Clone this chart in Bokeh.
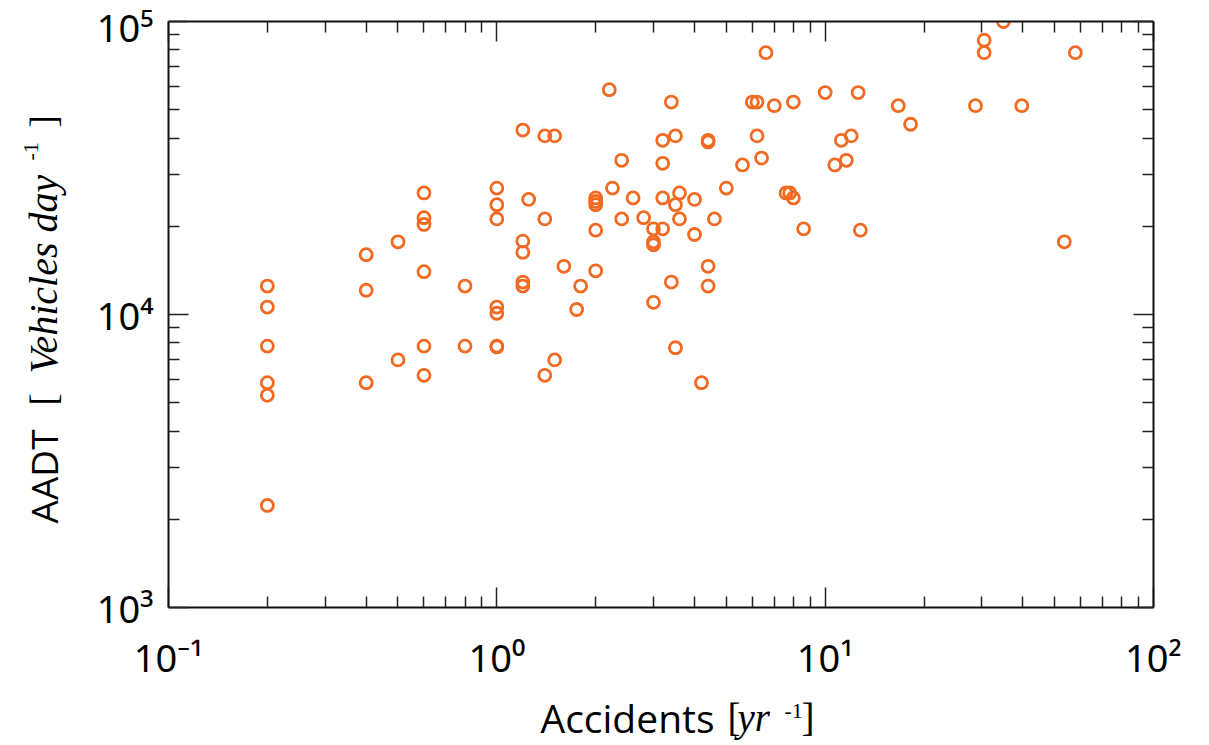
import numpy as np
from bokeh.plotting import figure
from bokeh.models import ColumnDataSource, LogAxis, FixedTicker, Label, Range1d
from bokeh.embed import file_html
from bokeh.resources import INLINE

# ---- data ----
accidents = [
    0.2, 0.2, 0.2, 0.2, 0.2, 0.2,
    0.4, 0.4, 0.4,
    0.5, 0.5,
    0.6, 0.6, 0.6, 0.6, 0.6, 0.6,
    0.8, 0.8,
    1.0, 1.0, 1.0, 1.0, 1.0, 1.0, 1.0,
    1.2, 1.2, 1.2, 1.2, 1.2,
    1.25,
    1.4, 1.4, 1.4,
    1.5, 1.5,
    1.6, 1.75, 1.8,
    2.0, 2.0, 2.0, 2.0, 2.0,
    2.2, 2.25,
    2.4, 2.4,
    2.6, 2.8,
    3.0, 3.0, 3.0, 3.0,
    3.2, 3.2, 3.2, 3.2,
    3.4, 3.4,
    3.5, 3.5, 3.5,
    3.6, 3.6,
    4.0, 4.0,
    4.2,
    4.4, 4.4, 4.4, 4.4,
    4.6, 5.0, 5.6,
    6.0, 6.2, 6.2, 6.4, 6.6,
    7.0, 7.6, 7.8,
    8.0, 8.0, 8.6,
    10.0, 10.7, 11.2, 11.6, 12.0, 12.6, 12.8,
    16.7, 18.2,
    28.7, 30.5, 30.5, 34.9, 39.7,
    53.5, 57.8,
]
aadt = [
    12500, 10600, 7800, 5850, 5300, 2230,
    16000, 12100, 5850,
    17700, 7000,
    26000, 21400, 20300, 14000, 7800, 6200,
    12500, 7800,
    27000, 23700, 21200, 10600, 10100, 7800, 7750,
    42600, 17800, 16300, 12900, 12500,
    24700,
    40700, 21200, 6200,
    40700, 7000,
    14600, 10400, 12500,
    25000, 24300, 23700, 19400, 14100,
    58500, 27000,
    33600, 21200,
    25000, 21400,
    19600, 17700, 17300, 11000,
    39300, 32800, 25000, 19600,
    53100, 12900,
    40700, 23700, 7700,
    26000, 21200,
    24700, 18750,
    5850,
    39300, 38800, 14600, 12500,
    21200, 27000, 32400,
    53100, 53100, 40700, 34200, 78300,
    51600, 26000, 26000,
    53100, 25000, 19600,
    57200, 32400, 39300, 33600, 40700, 57200, 19400,
    51600, 44600,
    51600, 86300, 78300, 100000, 51600,
    17700, 78300,
]

x_major = [0.1, 1, 10, 100]
x_tick_labels = ["10\u207b\u00b9", "10\u2070", "10\u00b9", "10\u00b2"]
y_major = [1000, 10000, 100000]
y_tick_labels = ["10\u00b3", "10\u2074", "10\u2075"]

x_title = "Accidents"
y_title = "AADT"
y_unit = "Vehicles day"
x_unit = "yr"
unit_exp = "-1"

ORANGE = "#F26A21"

def minor_list(majors):
    out = []
    for m in majors[:-1]:
        for k in range(2, 10):
            out.append(m * k)
    return out

x_minor = minor_list(x_major)
y_minor = minor_list(y_major)

src = ColumnDataSource(dict(x=accidents, y=aadt))

H = 744
p = figure(
    x_axis_type="log", y_axis_type="log",
    x_range=Range1d(x_major[0], x_major[-1]),
    y_range=Range1d(y_major[0], y_major[-1]),
    frame_width=985, frame_height=586,
    min_border_left=168, min_border_right=50,
    min_border_top=21, min_border_bottom=H - 21 - 586,
    output_backend="svg", toolbar_location=None,
    background_fill_color="white", border_fill_color="white",
)
p.outline_line_color = None
p.xgrid.visible = False
p.ygrid.visible = False

p.scatter(x="x", y="y", source=src, marker="circle", size=12,
          fill_color=None, line_color=ORANGE, line_width=2.8)

top_axis = LogAxis()
right_axis = LogAxis()
p.add_layout(top_axis, "above")
p.add_layout(right_axis, "right")

TICK_FONT = "Noto Sans"

def style_axis(ax, majors, minors, labels, show_labels, standoff):
    ax.ticker = FixedTicker(ticks=majors, minor_ticks=minors)
    ax.axis_line_color = "#111111"
    ax.axis_line_width = 2
    ax.major_tick_line_color = "#222222"
    ax.minor_tick_line_color = "#222222"
    ax.major_tick_line_width = 1.5
    ax.minor_tick_line_width = 1.5
    ax.major_tick_in = 20
    ax.major_tick_out = 0
    ax.minor_tick_in = 11
    ax.minor_tick_out = 0
    if show_labels:
        ax.major_label_overrides = {m: l for m, l in zip(majors, labels)}
        ax.major_label_text_font = TICK_FONT
        ax.major_label_text_font_size = "38px"
        ax.major_label_text_color = "black"
        ax.major_label_standoff = standoff
    else:
        ax.major_label_text_font_size = "1px"
        ax.major_label_text_alpha = 0
        ax.major_label_standoff = 0

for ax in p.below:
    style_axis(ax, x_major, x_minor, x_tick_labels, True, 23)
for ax in p.left:
    style_axis(ax, y_major, y_minor, y_tick_labels, True, 15)
style_axis(top_axis, x_major, x_minor, x_tick_labels, False, 0)
style_axis(right_axis, y_major, y_minor, y_tick_labels, False, 0)

SANS = "Open Sans"
SERIF = "Liberation Serif"

# axis title pieces, placed in canvas pixels (side panel => not clipped)
xt = [
    (x_title, 540, 717, SANS, "normal", "39px"),
    ("[", 727, 717, SERIF, "normal", "39px"),
    (x_unit, 737, 717, SERIF, "italic", "39px"),
    (unit_exp, 784, 710, SERIF, "normal", "22px"),
    ("]", 801, 717, SERIF, "normal", "39px"),
]
for t, x, y, f, st, sz in xt:
    p.add_layout(Label(x=x, y=y, x_units="canvas", y_units="canvas", text=t,
                       text_font=f, text_font_style=st, text_font_size=sz,
                       text_color="black", text_align="left",
                       text_baseline="alphabetic"), "right")

yt = [
    (y_title, 43, 523, SANS, "normal", "37px"),
    ("[", 43, 405, SERIF, "normal", "37px"),
    (y_unit, 43, 373, SERIF, "italic", "40px"),
    (unit_exp, 30, 160, SERIF, "normal", "22px"),
    ("]", 43, 127, SERIF, "normal", "37px"),
]
for t, x, y, f, st, sz in yt:
    p.add_layout(Label(x=x, y=y, x_units="canvas", y_units="canvas", text=t,
                       angle=np.pi / 2,
                       text_font=f, text_font_style=st, text_font_size=sz,
                       text_color="black", text_align="left",
                       text_baseline="alphabetic"), "right")

open("out.html", "w").write(file_html(p, INLINE))
